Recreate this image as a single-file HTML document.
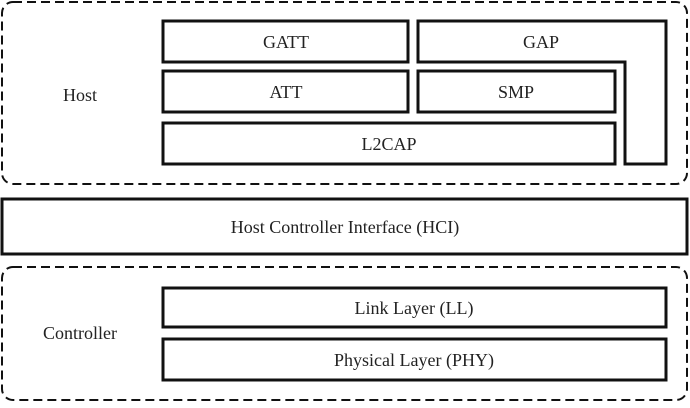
<!DOCTYPE html>
<html><head><style>
body{margin:0;background:#fff;}
text{font-family:'Liberation Serif','Times New Roman',Times,'DejaVu Serif',serif;font-size:18px;fill:#222;text-anchor:middle;}
</style></head><body>
<svg width="690" height="403" viewBox="0 0 690 403" xmlns="http://www.w3.org/2000/svg">
<g fill="none" stroke="#111">
<rect x="2" y="2" width="685" height="182" rx="11" stroke-width="2" stroke-dasharray="9,5"/>
<rect x="2" y="267" width="685" height="133" rx="11" stroke-width="2" stroke-dasharray="9,5"/>
<g stroke-width="3">
<rect x="163" y="21" width="245" height="41"/>
<path d="M418 21 H666 V164 H625 V62 H418 Z"/>
<rect x="163" y="71" width="245" height="41"/>
<rect x="418" y="71" width="197" height="41"/>
<rect x="163" y="123" width="452" height="41"/>
<rect x="2" y="199" width="685" height="55"/>
<rect x="163" y="288" width="503" height="39"/>
<rect x="163" y="339" width="503" height="41"/>
</g>
</g>
<g font-family="Liberation Serif, serif">
<text x="80" y="101">Host</text>
<text x="286" y="48">GATT</text>
<text x="541" y="48">GAP</text>
<text x="286" y="98">ATT</text>
<text x="516" y="98">SMP</text>
<text x="389" y="150">L2CAP</text>
<text x="345" y="233">Host Controller Interface (HCI)</text>
<text x="80" y="339">Controller</text>
<text x="414" y="314">Link Layer (LL)</text>
<text x="414" y="366">Physical Layer (PHY)</text>
</g>
</svg>
</body></html>
